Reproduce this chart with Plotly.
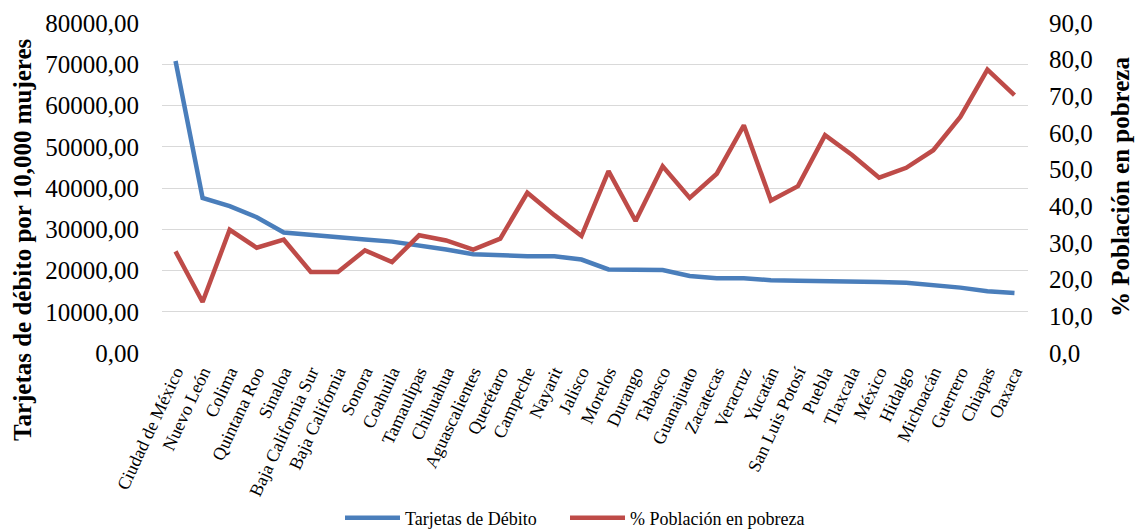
import plotly.graph_objects as go

states = ["Ciudad de México", "Nuevo León", "Colima", "Quintana Roo", "Sinaloa",
          "Baja California Sur", "Baja California", "Sonora", "Coahuila", "Tamaulipas",
          "Chihuahua", "Aguascalientes", "Querétaro", "Campeche", "Nayarit", "Jalisco",
          "Morelos", "Durango", "Tabasco", "Guanajuato", "Zacatecas", "Veracruz",
          "Yucatán", "San Luis Potosí", "Puebla", "Tlaxcala", "México", "Hidalgo",
          "Michoacán", "Guerrero", "Chiapas", "Oaxaca"]

tarjetas = [70800, 37600, 35600, 32900, 29200, 28600, 27900, 27500, 27000, 26100,
            25100, 23950, 23630, 23470, 23450, 22660, 20250, 20100, 20100, 18650,
            18150, 18100, 17650, 17500, 17480, 17380, 17220, 17050, 16500, 15850,
            14960, 14550]

pobreza = [27.7, 13.9, 33.6, 28.7, 30.9, 22.1, 22.1, 28.0, 24.8, 32.1,
           30.7, 28.2, 31.2, 43.7, 37.6, 31.9, 49.6, 36.0, 50.9, 42.3,
           48.9, 62.1, 41.6, 45.5, 59.4, 54.0, 47.8, 50.5, 55.3, 64.4,
           77.3, 70.3]

name_t = "Tarjetas de Débito"
name_p = "% Población en pobreza"
title_left = "Tarjetas de débito por 10,000 mujeres"
title_right = "% Población en pobreza"

FONT = "Liberation Serif, Times New Roman, serif"
BLUE = "#4A7EBB"
RED = "#BE4B48"

fig = go.Figure()
fig.add_trace(go.Scatter(x=states, y=tarjetas, name=name_t, mode="lines",
                         line=dict(color=BLUE, width=4.5), yaxis="y", legend="legend"))
fig.add_trace(go.Scatter(x=states, y=pobreza, name=name_p, mode="lines",
                         line=dict(color=RED, width=4.5), yaxis="y2", legend="legend2"))

legend_common = dict(orientation="h", xanchor="left",
                     y=(353 - 518) / 330, yanchor="middle",
                     font=dict(size=18, family=FONT), itemwidth=55,
                     bgcolor="rgba(0,0,0,0)")

fig.update_layout(
    width=1137, height=532,
    margin=dict(l=162, r=109, t=23, b=179, autoexpand=False),
    paper_bgcolor="white", plot_bgcolor="white",
    separators=",.",
    font=dict(family=FONT, color="black"),
    showlegend=True,
    legend=dict(x=(340 - 162) / 866, **legend_common),
    legend2=dict(x=(565 - 162) / 866, **legend_common),
    xaxis=dict(type="category", range=[-0.5, 31.5], showgrid=False, showline=False,
               zeroline=False, tickangle=-65, tickfont=dict(size=18, family=FONT),
               ticks="", ticklabelstandoff=4, automargin=False),
    yaxis=dict(range=[0, 80000], dtick=10000, tickformat=".2f",
               showgrid=True, gridcolor="#D9D9D9", gridwidth=1.3, zeroline=False,
               showline=False, tickfont=dict(size=25, family=FONT), ticks="",
               ticklabelstandoff=22, automargin=False),
    yaxis2=dict(range=[0, 90], dtick=10, tickformat=".1f", overlaying="y", side="right",
                showgrid=False, zeroline=False, showline=False,
                tickfont=dict(size=25, family=FONT), ticks="", ticklabelstandoff=20,
                automargin=False),
    annotations=[
        dict(text="<b>" + title_left + "</b>", textangle=-90, xref="paper", yref="paper",
             x=(22 - 162) / 866, y=(353 - 240) / 330, xanchor="center", yanchor="middle",
             showarrow=False, font=dict(size=25, family=FONT, color="black")),
        dict(text="<b>" + title_right + "</b>", textangle=-90, xref="paper", yref="paper",
             x=(1120 - 162) / 866, y=(353 - 187) / 330, xanchor="center", yanchor="middle",
             showarrow=False, font=dict(size=25, family=FONT, color="black")),
    ],
)

fig.write_html("out.html")
